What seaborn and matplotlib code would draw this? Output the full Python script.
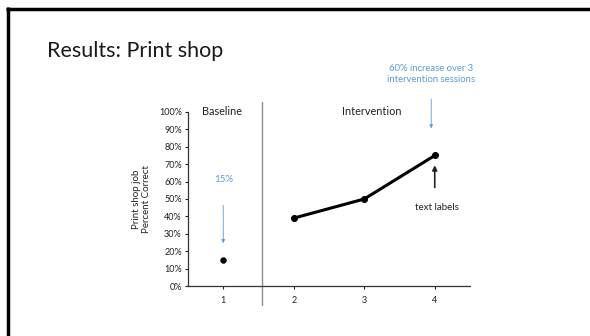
import matplotlib
matplotlib.use("Agg")
from matplotlib import pyplot as plt
from matplotlib.lines import Line2D
import matplotlib.ticker as mticker
import pandas as pd
import seaborn as sns

# data
baseline_session = [1]
baseline_pct = [15]
interv_sessions = [2, 3, 4]
interv_pct = [39, 50, 75]
x_ticks = [1, 2, 3, 4]

title = "Results: Print shop"
ylabel = "Print shop job\nPercent Correct"
blue = "#5B9BD5"

sns.set_theme(style="white")
plt.rcParams['font.family'] = ['Lato', 'DejaVu Sans']

fig = plt.figure(figsize=(5.9, 3.36), dpi=100)
ax = fig.add_axes([188/590, 50/336, 282/590, 174/336])

base_df = pd.DataFrame({'session': baseline_session, 'pct': baseline_pct})
int_df = pd.DataFrame({'session': interv_sessions, 'pct': interv_pct})

sns.lineplot(ax=ax, data=int_df, x='session', y='pct', color='black', linewidth=2.2,
             marker='o', markersize=4.3, markeredgecolor='black')
sns.scatterplot(ax=ax, data=base_df, x='session', y='pct', color='black', s=18,
                edgecolor='black', zorder=3)

ax.set_xlim(0.5, 4.5)
ax.set_ylim(0, 100)
ax.set_xticks(x_ticks)
ax.set_yticks(range(0, 101, 10))
ax.yaxis.set_major_formatter(mticker.FuncFormatter(lambda v, p: f"{int(v)}%"))
ax.tick_params(axis='both', labelsize=6.5, colors='#222222', length=2.5, width=0.8,
               direction='out', pad=2)
ax.tick_params(axis='x', pad=5)
ax.xaxis.set_ticks_position('bottom')
ax.yaxis.set_ticks_position('left')
for side in ['top', 'right']:
    ax.spines[side].set_visible(False)
for side in ['left', 'bottom']:
    ax.spines[side].set_color('#333333')
    ax.spines[side].set_linewidth(0.9)
ax.set_xlabel('')
ax.set_ylabel(ylabel, fontsize=7, color='#222222', labelpad=6, linespacing=1.1)

# phase change line
ax.plot([1.55, 1.55], [-11, 106], color='#8c8c8c', linewidth=1.0, clip_on=False)

ax.text(0.98, 100, "Baseline", fontsize=7.8, color='#222222', ha='center', va='center')
ax.text(3.1, 100, "Intervention", fontsize=7.8, color='#222222', ha='center', va='center')

# annotations
ax.text(1.0, 61, "15%", fontsize=7, color=blue, ha='center', va='center')
ax.annotate("", xy=(1.0, 23), xytext=(1.0, 48),
            arrowprops=dict(arrowstyle='-|>', color=blue, lw=0.6, mutation_scale=5))
ax.text(3.95, 122, "60% increase over 3\nintervention sessions", fontsize=6.8,
        color=blue, ha='center', va='center', linespacing=1.25)
ax.annotate("", xy=(3.95, 89), xytext=(3.95, 109),
            arrowprops=dict(arrowstyle='-|>', color=blue, lw=0.6, mutation_scale=5))
ax.annotate("", xy=(4.0, 71), xytext=(4.0, 55),
            arrowprops=dict(arrowstyle='-|>', color='#222222', lw=1.2, mutation_scale=7))
ax.text(4.03, 45, "text labels", fontsize=7, color='#222222', ha='center', va='center')

# slide title and frame
fig.text(47/590, 1 - 57/336, title, fontsize=15.5, color='#1a1a1a', ha='left',
         va='baseline')
fig.add_artist(Line2D([7.5/590, 7.5/590], [0, 1 - 7/336], color='black', lw=2.5,
                      transform=fig.transFigure, solid_capstyle='butt'))
fig.add_artist(Line2D([6/590, 1], [1 - 8.5/336, 1 - 8.5/336], color='black', lw=2.5,
                      transform=fig.transFigure, solid_capstyle='butt'))

plt.savefig('out.png', dpi=100)
